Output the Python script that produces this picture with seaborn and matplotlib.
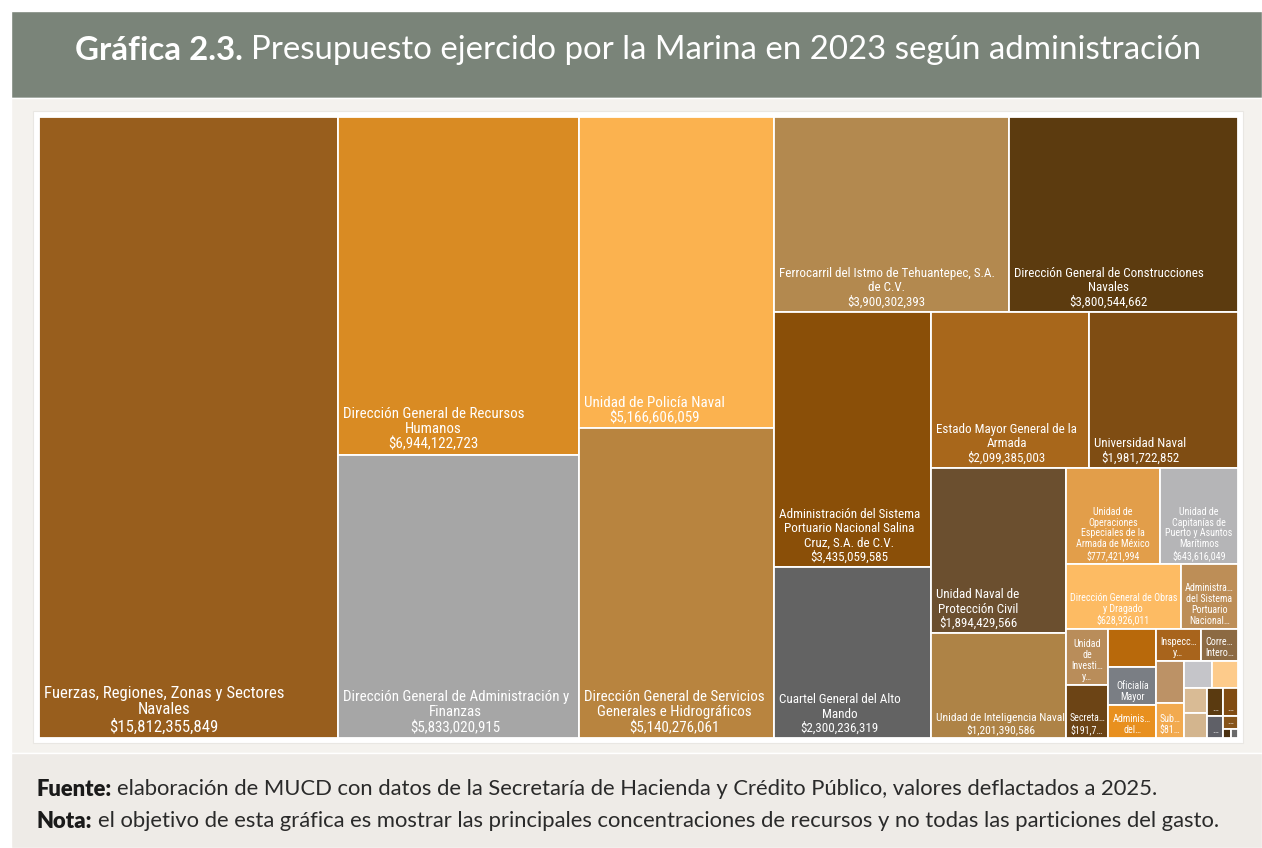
import matplotlib
matplotlib.use("Agg")
import matplotlib.pyplot as plt
from matplotlib import font_manager as fm
from matplotlib.patches import Rectangle
import seaborn as sns

# datos: presupuesto ejercido por unidad administrativa (pesos de 2025)
labels = [
    "Fuerzas, Regiones, Zonas y Sectores\nNavales\n$15,812,355,849",
    "Dirección General de Recursos\nHumanos\n$6,944,122,723",
    "Dirección General de Administración y\nFinanzas\n$5,833,020,915",
    "Unidad de Policía Naval\n$5,166,606,059",
    "Dirección General de Servicios\nGenerales e Hidrográficos\n$5,140,276,061",
    "Ferrocarril del Istmo de Tehuantepec, S.A.\nde C.V.\n$3,900,302,393",
    "Dirección General de Construcciones\nNavales\n$3,800,544,662",
    "Administración del Sistema\nPortuario Nacional Salina\nCruz, S.A. de C.V.\n$3,435,059,585",
    "Cuartel General del Alto\nMando\n$2,300,236,319",
    "Estado Mayor General de la\nArmada\n$2,099,385,003",
    "Universidad Naval\n$1,981,722,852",
    "Unidad Naval de\nProtección Civil\n$1,894,429,566",
    "Unidad de Inteligencia Naval\n$1,201,390,586",
    "Unidad de\nOperaciones\nEspeciales de la\nArmada de México\n$777,421,994",
    "Unidad de\nCapitanías de\nPuerto y Asuntos\nMarítimos\n$643,616,049",
    "Dirección General de Obras\ny Dragado\n$628,926,011",
    "Administra…\ndel Sistema\nPortuario\nNacional…",
    "Unidad\nde\nInvesti…\ny…",
    "Secreta…\n$191,7…",
    "",
    "Oficialía\nMayor",
    "Adminis…\ndel…",
    "Inspecc…\ny…",
    "Corre…\nIntero…",
    "",
    "Sub…\n$81…",
    "",
    "",
    "",
    "",
    "…",
    "…",
    "…",
    "…",
    "",
    "",
]

valores = [
    15812355849, 6944122723, 5833020915, 5166606059, 5140276061,
    3900302393, 3800544662, 3435059585, 2300236319, 2099385003,
    1981722852, 1894429566, 1201390586, 777421994, 643616049,
    628926011, 312000000, 206000000, 191700000, 157000000,
    153000000, 135000000, 121000000, 102000000, 100000000,
    81000000, 68000000, 61000000, 51000000, 50000000,
    38000000, 35000000, 30000000, 16000000, 6000000, 5000000,
]

colores = [
    "#985E1D", "#D98B23", "#A6A6A6", "#FBB24F", "#B8843F",
    "#B3894F", "#5C3B0F", "#8A4F08", "#636363", "#A8671B",
    "#7F4D13", "#6B4F2F", "#AE8346", "#E29E4A", "#B5B5B7",
    "#FDBB63", "#BD8E57", "#B98D5A", "#6C4415", "#B8690B",
    "#7A7E84", "#E8901F", "#A8641C", "#8C6A43", "#BC9266",
    "#F2AA4F", "#C5C5C9", "#FDCB8B", "#D9BB95", "#D3B58E",
    "#5A3A10", "#814C12", "#5F6067", "#87551B", "#4A3010",
    "#6A6A6A",
]

titulo_b = "Gráfica 2.3."
titulo = "Presupuesto ejercido por la Marina en 2023 según administración"
fuente_b = "Fuente:"
fuente = "elaboración de MUCD con datos de la Secretaría de Hacienda y Crédito Público, valores deflactados a 2025."
nota_b = "Nota:"
nota = "el objetivo de esta gráfica es mostrar las principales concentraciones de recursos y no todas las particiones del gasto."


def squarify(vals, x0, y0, x1, y1, ratio=0.96):
    # squarified al estilo d3 (filas/columnas alternando según el lado corto)
    rects = []
    value = float(sum(vals))
    i0 = 0
    n = len(vals)
    while i0 < n:
        dx, dy = x1 - x0, y1 - y0
        i1 = i0 + 1
        s = vals[i0]
        vmin = vmax = s
        alpha = max(dy / dx, dx / dy) / (value * ratio)
        beta = s * s * alpha
        best = max(vmax / beta, beta / vmin)
        while i1 < n:
            v = vals[i1]
            s2 = s + v
            beta = s2 * s2 * alpha
            nuevo = max(max(vmax, v) / beta, beta / min(vmin, v))
            if nuevo > best:
                break
            s, best = s2, nuevo
            vmin, vmax = min(vmin, v), max(vmax, v)
            i1 += 1
        fila = vals[i0:i1]
        if dx < dy:
            yb = y0 + dy * s / value
            cx = x0
            for v in fila:
                rects.append((cx, y0, dx * v / s, yb - y0))
                cx += dx * v / s
            y0 = yb
        else:
            xb = x0 + dx * s / value
            cy = y0
            for v in fila:
                rects.append((x0, cy, xb - x0, dy * v / s))
                cy += dy * v / s
            x0 = xb
        value -= s
        i0 = i1
    return rects


sns.set_theme(style="white")
plt.rcParams['font.family'] = ['Lato', 'DejaVu Sans']

nombres = {f.name for f in fm.fontManager.ttflist}
if 'Roboto Condensed' in nombres:
    fam_celda, escala = ['Roboto Condensed', 'DejaVu Sans'], 1.0
elif 'Liberation Sans Narrow' in nombres:
    fam_celda, escala = ['Liberation Sans Narrow', 'DejaVu Sans'], 1.0
else:
    fam_celda, escala = ['Roboto', 'DejaVu Sans'], 0.9

FW, FH = 1262, 848
fig = plt.figure(figsize=(FW / 100, FH / 100), dpi=100, facecolor="white")
r = fig.canvas.get_renderer()


def caja(x0, y0, x1, y1, color, **kw):
    fig.patches.append(Rectangle((x0 / FW, 1 - y1 / FH), (x1 - x0) / FW, (y1 - y0) / FH,
                                 transform=fig.transFigure, facecolor=color, zorder=-5, **kw))


# fondos
caja(11, 11, FW, 98, "#7A8479")
caja(11, 98, FW, 753, "#F4F2EE")
caja(11, 753, FW, FH, "#EEEBE7")
caja(33, 111, 1243, 743, "white", edgecolor="#E9E7E3", linewidth=0.8)

# treemap
W, H = 1199, 621
ax = fig.add_axes([39 / FW, 1 - 738 / FH, W / FW, H / FH])
ax.set_zorder(5)
ax.patch.set_alpha(0)
ax.set_xlim(0, W)
ax.set_ylim(H, 0)
ax.axis("off")

rects = squarify(valores, 0, 0, W, H)

for (x, y, w, h), lab, col in zip(rects, labels, colores):
    ax.add_patch(Rectangle((x, y), w, h, facecolor=col, edgecolor="white", linewidth=1.3))
    if not lab:
        continue
    a = w * h
    if a >= 150000:
        px = 16.7
    elif a >= 55000:
        px = 15
    elif a >= 18000:
        px = 13
    elif a >= 12000:
        px = 11.5
    else:
        px = 10
    if w < 125:
        tx, ha = x + w / 2, "center"
    else:
        tx, ha = x + 5, "left"
    fs = px * 0.72 * escala
    t = ax.text(tx, y + h - 3, lab, ha=ha, va="bottom", multialignment="center",
                color="white", fontsize=fs, family=fam_celda, linespacing=1.12)
    bb = t.get_window_extent(r)
    while (bb.width > w - 1.5 or bb.height > h - 2) and fs > 4.5:
        fs -= 0.25
        t.set_fontsize(fs)
        bb = t.get_window_extent(r)

# título
ty = 1 - 50 / FH
t1 = fig.text(0, ty, titulo_b, fontsize=23.8, weight="bold", color="white", va="center")
t2 = fig.text(0, ty, titulo, fontsize=23.8, color="white", va="center")
w1 = t1.get_window_extent(r).width
w2 = t2.get_window_extent(r).width
gap = 8
x0 = 638 - (w1 + gap + w2) / 2
t1.set_x(x0 / FW)
t2.set_x((x0 + w1 + gap) / FW)

# notas al pie
for yy, b, txt in [(789, fuente_b, fuente), (821, nota_b, nota)]:
    a1 = fig.text(37 / FW, 1 - yy / FH, b, fontsize=15.8, weight="heavy", color="#1A1A1A", va="center")
    wb = a1.get_window_extent(r).width
    fig.text((37 + wb + 5) / FW, 1 - yy / FH, txt, fontsize=15.8, color="#2A2A2A", va="center")

fig.savefig("out.png", dpi=100, facecolor="white")
